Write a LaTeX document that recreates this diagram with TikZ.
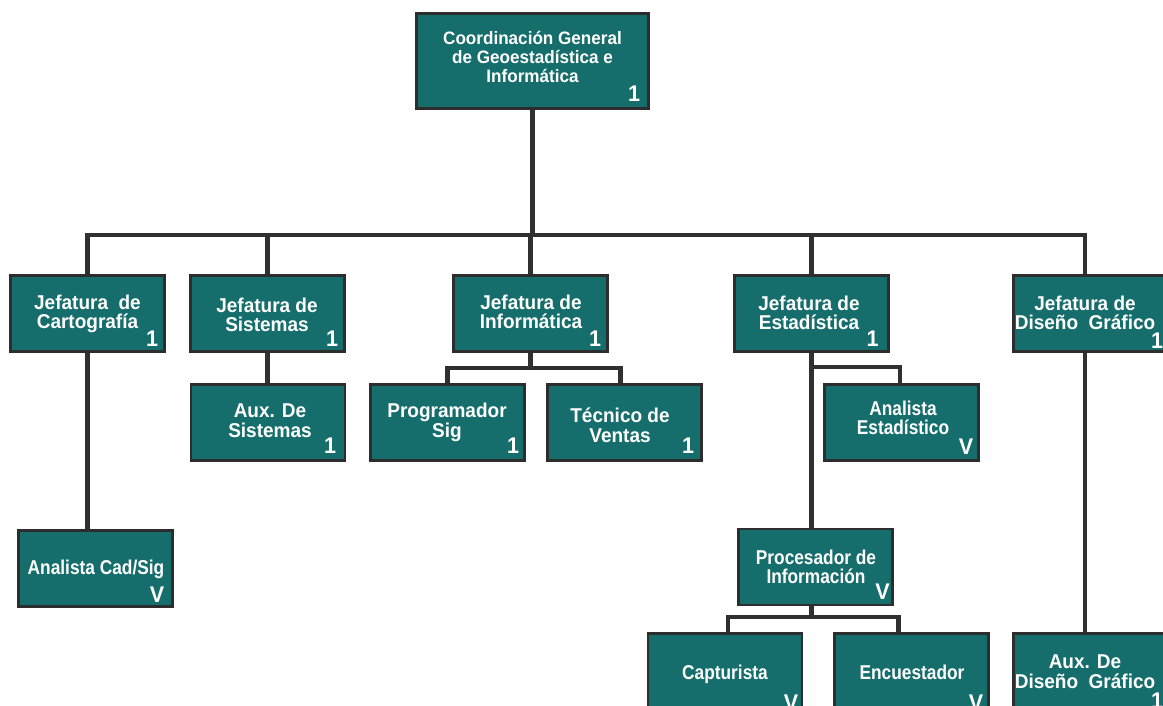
\documentclass[tikz,border=0pt]{standalone}
\usepackage{fontspec}
\newfontfamily\orgfont{Liberation Sans}[FakeStretch=0.95]
\newfontfamily\orgfontn{Liberation Sans}[FakeStretch=0.865]
\usetikzlibrary{calc}
\definecolor{boxfill}{RGB}{22,110,108}
\definecolor{boxline}{RGB}{45,45,45}
\definecolor{connline}{RGB}{48,48,48}
\tikzset{
  orgbox/.style={rectangle, draw=boxline, line width=2.2pt, fill=boxfill, inner sep=0pt,
    minimum width=115.5pt, minimum height=57pt},
  lowbox/.style={orgbox, minimum height=60.75pt},
  topbox/.style={orgbox, minimum width=174pt, minimum height=71.25pt},
  orgtext/.style={text=white, align=center, inner sep=0pt,
    font=\orgfont\bfseries\fontsize{15}{14.5}\selectfont},
  narrowtext/.style={orgtext, font=\orgfontn\bfseries\fontsize{15}{14.5}\selectfont},
  toptext/.style={orgtext, font=\orgfont\bfseries\fontsize{13.5}{13.9}\selectfont},
  orgnum/.style={text=white, inner sep=0pt, anchor=base east,
    font=\orgfont\bfseries\fontsize{17}{17}\selectfont},
  conn/.style={draw=connline, line width=3.5pt, line join=miter},
}
\begin{document}
\begin{tikzpicture}[x=0.75pt,y=-0.75pt]
\useasboundingbox (0,0) rectangle (1163,706);
\clip (0,0) rectangle (1163,706);
\fill[white] (0,0) rectangle (1163,706);

% boxes
\node[topbox] (top) at (532.5,61) {};
\node[orgbox] (cart) at (87.5,313.5) {};
\node[orgbox] (sist) at (267.5,313.5) {};
\node[orgbox] (info) at (530.5,313.5) {};
\node[orgbox] (esta) at (811.5,313.5) {};
\node[orgbox] (dise) at (1090.5,313.5) {};
\node[orgbox] (auxsis) at (268,422.5) {};
\node[orgbox] (prog) at (447.5,422.5) {};
\node[orgbox] (tec) at (624.5,422.5) {};
\node[orgbox] (anest) at (901.5,422.5) {};
\node[orgbox] (cad) at (95.5,568.5) {};
\node[orgbox] (proc) at (815.5,567) {};
\node[lowbox] (capt) at (725,674) {};
\node[lowbox] (enc) at (911.5,674) {};
\node[lowbox] (auxdis) at (1090.5,674) {};

% texts
\node[toptext] (ttop) at (532.5,57) {Coordinación General\\de Geoestadística e\\Informática};
\node[orgtext] (tcart) at (87.5,314) {Jefatura~~de\\Cartografía};
\node[orgtext] (tsist) at (267,314.7) {Jefatura de\\Sistemas};
\node[orgtext] (tinfo) at (531,311.7) {Jefatura de\\Informática};
\node[orgtext] (testa) at (809,312.7) {Jefatura de\\Estadística};
\node[orgtext] (tdise) at (1085,312.7) {Jefatura de\\Diseño~~Gráfico};
\node[orgtext] (tauxsis) at (270,420.7) {Aux. De\\Sistemas};
\node[orgtext] (tprog) at (447,422.3) {Programador\\Sig};
\node[orgtext] (ttec) at (620,425.2) {Técnico de\\Ventas};
\node[narrowtext] (tanest) at (903,417.7) {Analista\\Estadístico};
\node[narrowtext] (tcad) at (96,569.8) {Analista Cad/Sig};
\node[narrowtext] (tproc) at (816,566.7) {Procesador de\\Información};
\node[narrowtext] (tcapt) at (725,674.8) {Capturista};
\node[narrowtext] (tenc) at (912,672.7) {Encuestador};
\node[orgtext] (tauxdis) at (1085,671.7) {Aux. De\\Diseño~~Gráfico};

% numbers
\node[orgnum] (ntop) at ($(top.south east)+(-9.5,-8.5)$) {1};
\node[orgnum] (ncart) at ($(cart.south east)+(-7.5,-6.5)$) {1};
\node[orgnum] (nsist) at ($(sist.south east)+(-7.5,-6.5)$) {1};
\node[orgnum] (ninfo) at ($(info.south east)+(-7.5,-6.5)$) {1};
\node[orgnum] (nesta) at ($(esta.south east)+(-11,-6.5)$) {1};
\node[orgnum] (ndise) at ($(dise.south east)+(-5.5,-4.5)$) {1};
\node[orgnum] (nauxsis) at ($(auxsis.south east)+(-10,-8)$) {1};
\node[orgnum] (nprog) at ($(prog.south east)+(-6.5,-8)$) {1};
\node[orgnum] (ntec) at ($(tec.south east)+(-8.5,-8)$) {1};
\node[orgnum] (nanest) at ($(anest.south east)+(-6.5,-7.5)$) {V};
\node[orgnum] (ncad) at ($(cad.south east)+(-9.5,-5.5)$) {V};
\node[orgnum] (nproc) at ($(proc.south east)+(-4,-7)$) {V};
\node[orgnum] (ncapt) at ($(capt.south east)+(-5,-5.5)$) {V};
\node[orgnum] (nenc) at ($(enc.south east)+(-6.5,-5.5)$) {V};
\node[orgnum] (nauxdis) at ($(auxdis.south east)+(-5.5,-7.5)$) {1};

% connectors
\coordinate (bus) at (0,235);
\coordinate (ibus) at (0,368);
\coordinate (ebus) at (0,367);
\coordinate (pbus) at (0,617);
\draw[conn] (top.south) -- (top.south |- bus);
\draw[conn] (cart.north) -- (cart.north |- bus) -- ($(dise.north |- bus)+(-5.5,0)$) -- ($(dise.north)+(-5.5,0)$);
\draw[conn] (sist.north) -- (sist.north |- bus);
\draw[conn] (info.north) -- (info.north |- bus);
\draw[conn] (esta.north) -- (esta.north |- bus);
\draw[conn] (sist.south) -- (sist.south |- auxsis.north);
\draw[conn] (info.south) -- (info.south |- ibus);
\draw[conn] (prog.north) -- (prog.north |- ibus) -- ($(tec.north |- ibus)+(-4,0)$) -- ($(tec.north)+(-4,0)$);
\draw[conn] (esta.south) -- (esta.south |- proc.north);
\draw[conn] (esta.south |- ebus) -- ($(anest.north |- ebus)+(-1.5,0)$) -- ($(anest.north)+(-1.5,0)$);
\draw[conn] ($(proc.south)+(-4,0)$) -- ($(proc.south |- pbus)+(-4,0)$);
\draw[conn] ($(capt.north)+(3,0)$) -- ($(capt.north |- pbus)+(3,0)$) -- ($(enc.north |- pbus)+(-13,0)$) -- ($(enc.north)+(-13,0)$);
\draw[conn] (cart.south) -- (cart.south |- cad.north);
\draw[conn] ($(dise.south)+(-5.5,0)$) -- ($(auxdis.north)+(-5.5,0)$);
\end{tikzpicture}
\end{document}
